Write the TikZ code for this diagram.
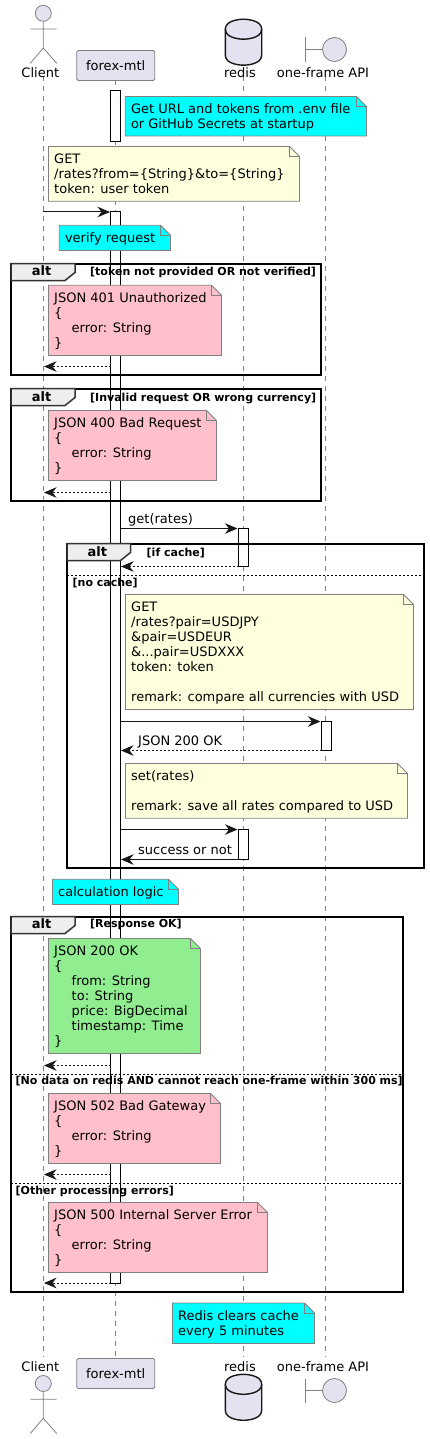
\documentclass[tikz,border=0pt]{standalone}
\usepackage{fontspec}
\setmainfont{DejaVu Sans}
\usetikzlibrary{arrows.meta}
\definecolor{partfill}{HTML}{E2E2F0}
\definecolor{partline}{HTML}{808080}
\definecolor{inkline}{HTML}{181818}
\definecolor{noteyellow}{HTML}{FEFFDD}
\definecolor{notepink}{HTML}{FFC0CB}
\definecolor{notegreen}{HTML}{90EE90}
\definecolor{notecyan}{HTML}{00FFFF}
\definecolor{tabfill}{HTML}{EEEEEE}
\tikzset{
  lifeline/.style={draw=partline,line width=0.8pt,dash pattern=on 5pt off 5pt},
  actbar/.style={draw=black,fill=white,line width=1pt},
  notebody/.style={draw=partline,line width=0.8pt},
  notetext/.style={anchor=north west,inner sep=0pt,align=left,text=black,font=\fontsize{13}{15}\selectfont},
  msgsolid/.style={draw=inkline,line width=1pt,-{Stealth[length=12.5pt,width=10.5pt,inset=4pt,fill=inkline]}},
  msgdash/.style={msgsolid,dash pattern=on 2pt off 2pt},
  msgtext/.style={anchor=base west,inner sep=0pt,text=black,font=\fontsize{13}{15}\selectfont},
  nametext/.style={anchor=base,inner sep=0pt,text=black,font=\fontsize{13}{15}\selectfont},
  condtext/.style={anchor=base west,inner sep=0pt,text=black,font=\fontsize{11}{13}\selectfont\bfseries},
  alttext/.style={anchor=base,inner sep=0pt,text=black,font=\fontsize{13}{15}\selectfont\bfseries},
  framebox/.style={draw=black,line width=2pt},
  framesep/.style={draw=black,line width=1pt,dash pattern=on 2pt off 2pt},
  tabbox/.style={draw=black!80,line width=1.5pt,fill=tabfill},
  partbox/.style={draw=partline,line width=0.8pt,fill=partfill,rounded corners=1.5pt},
  partsym/.style={draw=partline,line width=0.8pt,fill=partfill},
  dbsym/.style={draw=inkline,line width=1.4pt,fill=partfill},
}
% name, x1, y1, x2, y2, fill, text
\newcommand{\notebox}[7]{%
  \path[notebody,fill=#6] (#2,#3) -- ({#4-10},#3) -- (#4,{#3+10}) -- (#4,#5) -- (#2,#5) -- cycle;
  \path[notebody] ({#4-10},#3) -- ({#4-10},{#3+10}) -- (#4,{#3+10});
  \node[notetext] (#1) at ({#2+5.5},{#3+5}) {\rule{0pt}{12pt}#7};
}
% name, x1, x2, y, style
\newcommand{\msgline}[5]{%
  \coordinate (#1a) at (#2,#4);
  \coordinate (#1b) at (#3,#4);
  \draw[#5] (#1a) -- (#1b);
}
% name, x1, y1, x2, y2, tab right, alt base, cond x, cond text (cond base is alt base less 0.7)
\newcommand{\altframe}[9]{%
  \path[framebox] (#2,#3) rectangle (#4,#5);
  \path[tabbox] (#2,#3) -- (#6,#3) -- (#6,{#3+9}) -- ({#6-10},{#3+17}) -- (#2,{#3+17}) -- cycle;
  \node[alttext] (#1) at ({(#2+#6)/2-1.5},#7) {alt};
  \node[condtext] (#1c) at (#8,{#7-0.7}) {#9};
}
% head centre y
\newcommand{\actorfig}[1]{%
  \path[partsym] (43.3,#1) circle (8);
  \path[partsym,fill=none] (43.3,{#1+8}) -- (43.3,{#1+34.7})
    (30.3,{#1+15.7}) -- (56.7,{#1+15.7})
    (30.3,{#1+50}) -- (43.3,{#1+34.7}) -- (56.7,{#1+50});
}
% top y
\newcommand{\dbfig}[1]{%
  \path[dbsym] (225.3,{#1+10}) .. controls (225.3,#1) and (243.5,#1) .. (243.5,#1)
    .. controls (243.5,#1) and (261.7,#1) .. (261.7,{#1+10})
    -- (261.7,{#1+36}) .. controls (261.7,{#1+46}) and (243.5,{#1+46}) .. (243.5,{#1+46})
    .. controls (243.5,{#1+46}) and (225.3,{#1+46}) .. (225.3,{#1+36}) -- cycle;
  \path[dbsym,fill=none] (225.3,{#1+10}) .. controls (225.3,{#1+20}) and (243.5,{#1+20}) .. (243.5,{#1+20})
    .. controls (243.5,{#1+20}) and (261.7,{#1+20}) .. (261.7,{#1+10});
}
% centre y
\newcommand{\boundfig}[1]{%
  \path[partsym,fill=none] (305.5,{#1-12}) -- (305.5,{#1+12.5}) (305.5,#1) -- (322.5,#1);
  \path[partsym] (334.5,#1) circle (12);
}
\begin{document}
\begin{tikzpicture}[x=1pt,y=-1pt]
\useasboundingbox[fill=white] (0,0) rectangle (429,1439);

% lifelines
\coordinate (cT) at (43.3,76);   \coordinate (cB) at (43.3,1357);
\coordinate (fT) at (115.5,80.5);\coordinate (fB) at (115.5,1358.5);
\coordinate (rT) at (243.3,76);  \coordinate (rB) at (243.3,1357);
\coordinate (oT) at (325.5,76);  \coordinate (oB) at (325.5,1357);
\draw[lifeline] (cT) -- (cB);
\draw[lifeline] (fT) -- (fB);
\draw[lifeline] (rT) -- (rB);
\draw[lifeline] (oT) -- (oB);

% participants, top
\actorfig{13.3}
\node[nametext] (clientTop) at (40.3,77.7) {Client};
\node[partbox,minimum width=78pt,minimum height=30pt,inner sep=0pt,text=black,font=\fontsize{13}{15}\selectfont] (forexTop) at (115.7,65.5) {forex-mtl};
\dbfig{19.2}
\node[nametext] (redisTop) at (240,77.7) {redis};
\boundfig{49.5}
\node[nametext] (oneTop) at (323,77.7) {one-frame API};

% participants, bottom
\node[nametext] (clientBot) at (40.3,1371) {Client};
\actorfig{1383.5}
\node[partbox,minimum width=78pt,minimum height=30pt,inner sep=0pt,text=black,font=\fontsize{13}{15}\selectfont] (forexBot) at (115.7,1373.5) {forex-mtl};
\node[nametext] (redisBot) at (240,1371) {redis};
\dbfig{1374.3}
\node[nametext] (oneBot) at (323,1371) {one-frame API};
\boundfig{1390.5}

% activation bars
\path[actbar] (110.5,91) rectangle (120.5,141.5);
\path[actbar] (110.5,212) rectangle (120.5,1283);
\path[actbar] (238.5,528.5) rectangle (248.5,566.5);
\path[actbar] (321.5,721.5) rectangle (331.5,750.5);
\path[actbar] (238.5,829.5) rectangle (248.5,859.5);

% start
\notebox{nA}{125.3}{96.5}{366.5}{136}{notecyan}{Get URL and tokens from .env file\\or GitHub Secrets at startup}
\notebox{nB}{48.5}{146.5}{299.5}{201.3}{noteyellow}{GET\\/rates?from=\{String\}\&to=\{String\}\\token: user token}
\msgline{mA}{43.3}{110}{212}{msgsolid}
\notebox{nC}{59.3}{225.3}{170.5}{250.5}{notecyan}{verify request}

% alt 1
\altframe{altA}{11}{263.5}{320.5}{374.5}{75}{275.7}{90}{[token not provided OR not verified]}
\notebox{nD}{48.5}{285.3}{221.5}{355.5}{notepink}{JSON 401 Unauthorized\\\{\\\hspace*{17.5pt}error: String\\\}}
\msgline{mB}{110.5}{44}{366.5}{msgdash}

% alt 2
\altframe{altB}{11}{388.5}{320.5}{500.5}{75}{401.7}{90}{[Invalid request OR wrong currency]}
\notebox{nE}{48.5}{410.5}{216.5}{480.5}{notepink}{JSON 400 Bad Request\\\{\\\hspace*{17.5pt}error: String\\\}}
\msgline{mC}{110.5}{44}{492.5}{msgdash}

% get rates
\msgline{mD}{120.5}{237.5}{528.5}{msgsolid}
\node[msgtext] (tD) at (128,523) {get(rates)};

% alt 3
\altframe{altC}{67}{543.5}{424}{867.5}{130.5}{556.7}{146.5}{[if cache]}
\msgline{mE}{238.5}{121}{566.5}{msgdash}
\coordinate (sCa) at (67,575.5); \coordinate (sCb) at (424,575.5);
\draw[framesep] (sCa) -- (sCb);
\node[condtext] (tNC) at (72.5,586.2) {[no cache]};
\notebox{nF}{125.5}{594.5}{413.5}{709.5}{noteyellow}{GET\\/rates?pair=USDJPY\\\&pair=USDEUR\\\&...pair=USDXXX\\token: token\\~\\remark: compare all currencies with USD}
\msgline{mF}{120.5}{320.5}{721.5}{msgsolid}
\msgline{mG}{321.5}{121}{750.5}{msgdash}
\node[msgtext] (tG) at (138,745) {JSON 200 OK};
\notebox{nG}{125.5}{763.5}{407.5}{818.3}{noteyellow}{set(rates)\\~\\remark: save all rates compared to USD}
\msgline{mH}{120.5}{237.5}{829.5}{msgsolid}
\msgline{mI}{238.5}{121}{859.5}{msgsolid}
\node[msgtext] (tI) at (138,854) {success or not};

\notebox{nH}{52.5}{879.3}{178.5}{904.5}{notecyan}{calculation logic}

% alt 4
\altframe{altD}{11}{916.5}{402.5}{1291.5}{75}{928.5}{90}{[Response OK]}
\notebox{nI}{48.5}{938.5}{200.5}{1053.5}{notegreen}{JSON 200 OK\\\{\\\hspace*{17.5pt}from: String\\\hspace*{17.5pt}to: String\\\hspace*{17.5pt}price: BigDecimal\\\hspace*{17.5pt}timestamp: Time\\\}}
\msgline{mJ}{110.5}{44}{1065.5}{msgdash}
\coordinate (sDa) at (11,1074.5); \coordinate (sDb) at (402.5,1074.5);
\draw[framesep] (sDa) -- (sDb);
\node[condtext] (tNo) at (15.5,1084) {[No data on redis AND cannot reach one-frame within 300 ms]};
\notebox{nJ}{48.5}{1093.5}{220.5}{1163.5}{notepink}{JSON 502 Bad Gateway\\\{\\\hspace*{17.5pt}error: String\\\}}
\msgline{mK}{110.5}{44}{1174.5}{msgdash}
\coordinate (sEa) at (11,1183.5); \coordinate (sEb) at (402.5,1183.5);
\draw[framesep] (sEa) -- (sEb);
\node[condtext] (tOt) at (15.5,1194) {[Other processing errors]};
\notebox{nK}{48.5}{1202.5}{267.5}{1272.5}{notepink}{JSON 500 Internal Server Error\\\{\\\hspace*{17.5pt}error: String\\\}}
\msgline{mL}{110.5}{44}{1283}{msgdash}

\notebox{nL}{172.5}{1303}{314.5}{1343.5}{notecyan}{Redis clears cache\\every 5 minutes}
\end{tikzpicture}
\end{document}
